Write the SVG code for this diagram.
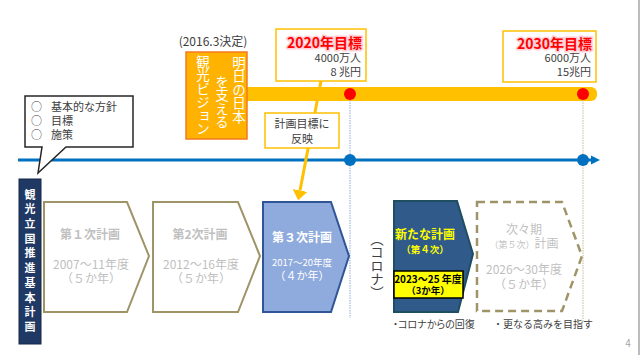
<svg xmlns="http://www.w3.org/2000/svg" width="644" height="355" viewBox="0 0 644 355">
<style>
text{font-family:"Noto Sans CJK JP","Noto Sans",sans-serif;}
.g{fill:#404040;}
.pl{fill:#BFBFBF;font-size:12px;text-anchor:middle;}
.plb{font-weight:bold;}
.vt{writing-mode:vertical-rl;}
.tgt{fill:#fff;stroke:#FFC000;stroke-width:1.5;}
.red{fill:#FF0000;font-size:14px;font-weight:bold;text-anchor:end;stroke:#FFD0D8;stroke-width:3;paint-order:stroke;}
.num{fill:#404040;font-size:11px;text-anchor:end;}
.tan{fill:#fff;stroke:#9E9468;stroke-width:2;}
.note{font-size:10px;fill:#404040;}
</style>
<defs>
<marker id="arrY" viewBox="0 0 10 15" refX="0" refY="7.5" markerWidth="10" markerHeight="15" markerUnits="userSpaceOnUse" orient="auto"><path d="M0,0 L10,7.5 L0,15 Z" fill="#FFC000"/></marker>
<marker id="arrB" viewBox="0 0 10 10" refX="0" refY="5" markerWidth="9" markerHeight="10" markerUnits="userSpaceOnUse" orient="auto"><path d="M0,0 L10,5 L0,10 Z" fill="#0070C0"/></marker>
</defs>
<rect width="644" height="355" fill="#fff"/>
<line x1="639" y1="0" x2="639" y2="355" stroke="#A6A6A6" stroke-width="1.5"/>

<g id="connectors">
<rect x="240" y="87" width="357" height="14" rx="6" fill="#FFC000"/>
<line x1="350" y1="100" x2="350" y2="318" stroke="#8FAADC" stroke-width="1" stroke-dasharray="1.5,1"/>
<line x1="583" y1="100" x2="583" y2="322" stroke="#C8BE96" stroke-width="1" stroke-dasharray="1.5,1"/>
<line x1="18" y1="160" x2="591" y2="160" stroke="#0070C0" stroke-width="3" marker-end="url(#arrB)"/>
<circle cx="350" cy="94" r="6" fill="#FF0000"/>
<circle cx="583" cy="94" r="6" fill="#FF0000"/>
<circle cx="350" cy="160" r="6" fill="#0070C0"/>
<circle cx="583" cy="160" r="6" fill="#0070C0"/>
<line x1="321" y1="81" x2="300" y2="190.5" stroke="#FFC000" stroke-width="3" marker-end="url(#arrY)"/>
</g>

<g id="vision">
<text x="213" y="46" font-size="12" class="g" text-anchor="middle">(2016.3決定)</text>
<rect x="186" y="52" width="61" height="87" fill="#FFB300" stroke="#F47920" stroke-width="1.5"/>
<text class="vt" x="239" y="56" font-size="13.5" fill="#fff">明日の日本</text>
<text class="vt" x="222" y="75" font-size="13.5" fill="#fff">を支える</text>
<text class="vt" x="203" y="55" font-size="13.5" fill="#fff">観光ビジョン</text>
</g>

<g id="target2020">
<rect class="tgt" x="276" y="29" width="90" height="52"/>
<text class="red" x="362" y="48">2020年目標</text>
<text class="num" x="361" y="62">4000万人</text>
<text class="num" x="361" y="76">8 兆円</text>
</g>

<g id="target2030">
<rect class="tgt" x="503" y="31" width="93" height="51"/>
<text class="red" x="592" y="49">2030年目標</text>
<text class="num" x="591" y="62">6000万人</text>
<text class="num" x="591" y="76">15兆円</text>
</g>

<g id="reflect">
<rect class="tgt" x="265" y="113" width="74" height="35"/>
<text x="302" y="128" font-size="11" class="g" text-anchor="middle">計画目標に</text>
<text x="302" y="143" font-size="11" class="g" text-anchor="middle">反映</text>
</g>

<g id="bubble">
<path d="M25,96 H133 V147 H66 L38,173 L42,147 H25 Z" fill="#fff" stroke="#262626" stroke-width="1.5" stroke-linejoin="miter"/>
<text x="31" y="111" font-size="11" class="g">○</text>
<text x="51" y="111" font-size="11" class="g">基本的な方針</text>
<text x="31" y="125" font-size="11" class="g">○</text>
<text x="51" y="125" font-size="11" class="g">目標</text>
<text x="31" y="139" font-size="11" class="g">○</text>
<text x="51" y="139" font-size="11" class="g">施策</text>
</g>

<g id="kihon">
<rect x="19" y="179" width="22" height="165" fill="#203864" stroke="#15284A" stroke-width="1"/>
<text class="vt" x="30" y="189" font-size="11" font-weight="bold" fill="#fff" letter-spacing="3.7">観光立国推進基本計画</text>
</g>

<g id="plan1">
<path class="tan" d="M44,202 H127 L149,256 L127,312 H44 Z"/>
<text class="pl plb" x="90" y="239">第１次計画</text>
<text class="pl" x="91" y="269">2007～11年度</text>
<text class="pl" x="91" y="283">（５か年）</text>
</g>

<g id="plan2">
<path class="tan" d="M153,202 H238 L260,256 L238,312 H153 Z"/>
<text class="pl plb" x="200" y="239">第2次計画</text>
<text class="pl" x="201" y="269">2012～16年度</text>
<text class="pl" x="201" y="283">（５か年）</text>
</g>

<g id="plan3">
<path d="M263,202 H331 L349,256 L331,312 H263 Z" fill="#8FAADC" stroke="#2F5597" stroke-width="2"/>
<text x="302" y="242" font-size="12" font-weight="bold" fill="#fff" text-anchor="middle">第３次計画</text>
<text x="302" y="266" font-size="9.5" fill="#fff" text-anchor="middle">2017～20年度</text>
<text x="302" y="280" font-size="11" fill="#fff" text-anchor="middle">（４か年）</text>
</g>

<g id="corona">
<text class="vt g" x="377" y="232" font-size="13.5">（コロナ）</text>
</g>

<g id="plan4">
<path d="M394,201 H457 L473,254 L458,312 H394 Z" fill="#2F5A8A" stroke="#1F4E60" stroke-width="2"/>
<text x="425" y="239" font-size="12" font-weight="bold" fill="#FFFF00" text-anchor="middle">新たな計画</text>
<text x="425" y="253" font-size="9.5" font-weight="bold" fill="#FFFF00" text-anchor="middle">（第４次）</text>
<rect x="394" y="271" width="69" height="27" fill="#FFFF00" stroke="#000" stroke-width="1.5"/>
<text x="428" y="283" font-size="10" font-weight="bold" fill="#000" text-anchor="middle">2023～25 年度</text>
<text x="428" y="294" font-size="9.5" font-weight="bold" fill="#000" text-anchor="middle">（3か年）</text>
</g>

<g id="plan5">
<path d="M477,202 H562 L582,256 L562,311 H477 Z" fill="none" stroke="#9E9468" stroke-width="2.5" stroke-dasharray="8,5"/>
<text class="pl" x="524" y="234">次々期</text>
<text class="pl" x="524" y="248"><tspan font-size="9">（第５次）</tspan>計画</text>
<text class="pl" x="524" y="274">2026～30年度</text>
<text class="pl" x="524" y="289">（５か年）</text>
</g>

<g id="notes">
<text x="393" y="328" class="note" style="font-feature-settings:'palt'">・コロナからの回復</text>
<text x="493" y="328" class="note">・更なる高みを目指す</text>
<text x="628" y="347" font-size="10" fill="#A6A6A6" text-anchor="middle">4</text>
</g>
</svg>
